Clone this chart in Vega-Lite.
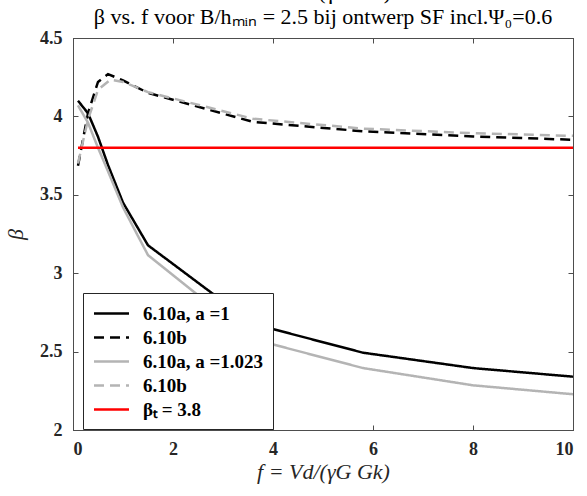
{
  "$schema": "https://vega.github.io/schema/vega-lite/v6.json",
  "width": 500,
  "height": 392,
  "autosize": {"type": "none"},
  "padding": {"left": 73, "top": 38, "right": 14, "bottom": 66},
  "background": "white",
  "title": {
    "text": ["f = Vd/(γG Gk)", "β vs. f voor B/hₘᵢₙ = 2.5 bij ontwerp SF incl.Ψ₀=0.6"],
    "font": "Liberation Serif",
    "fontSize": 22,
    "fontWeight": "normal",
    "lineHeight": 25,
    "color": "black",
    "anchor": "middle",
    "offset": 0
  },
  "config": {
    "view": {"stroke": "#4d4d4d", "strokeWidth": 1},
    "axis": {
      "labelFont": "Liberation Serif",
      "labelFontSize": 18,
      "labelFontWeight": "bold",
      "labelColor": "#262626",
      "titleFont": "Liberation Serif",
      "titleFontSize": 22,
      "titleFontStyle": "italic",
      "titleFontWeight": "normal",
      "titleColor": "#262626",
      "domainColor": "#4d4d4d",
      "tickColor": "#4d4d4d",
      "grid": false,
      "labelOverlap": false
    }
  },
  "data": {
    "values": [
      {"s": "A1", "f": 0.1, "b": 4.10},
      {"s": "A1", "f": 0.3, "b": 4.02},
      {"s": "A1", "f": 0.5, "b": 3.87},
      {"s": "A1", "f": 0.7, "b": 3.69},
      {"s": "A1", "f": 1.0, "b": 3.45},
      {"s": "A1", "f": 1.5, "b": 3.178},
      {"s": "A1", "f": 3.6, "b": 2.677},
      {"s": "A1", "f": 5.8, "b": 2.493},
      {"s": "A1", "f": 8.0, "b": 2.395},
      {"s": "A1", "f": 10.0, "b": 2.34},
      {"s": "B1", "f": 0.1, "b": 3.685},
      {"s": "B1", "f": 0.3, "b": 4.02},
      {"s": "B1", "f": 0.5, "b": 4.22},
      {"s": "B1", "f": 0.7, "b": 4.27},
      {"s": "B1", "f": 1.0, "b": 4.23},
      {"s": "B1", "f": 1.5, "b": 4.15},
      {"s": "B1", "f": 3.6, "b": 3.965},
      {"s": "B1", "f": 5.8, "b": 3.905},
      {"s": "B1", "f": 8.0, "b": 3.872},
      {"s": "B1", "f": 10.0, "b": 3.851},
      {"s": "A2", "f": 0.1, "b": 4.07},
      {"s": "A2", "f": 0.3, "b": 3.96},
      {"s": "A2", "f": 0.5, "b": 3.80},
      {"s": "A2", "f": 0.7, "b": 3.65},
      {"s": "A2", "f": 1.0, "b": 3.42},
      {"s": "A2", "f": 1.5, "b": 3.115},
      {"s": "A2", "f": 3.6, "b": 2.579},
      {"s": "A2", "f": 5.8, "b": 2.395},
      {"s": "A2", "f": 8.0, "b": 2.285},
      {"s": "A2", "f": 10.0, "b": 2.228},
      {"s": "B2", "f": 0.1, "b": 3.70},
      {"s": "B2", "f": 0.3, "b": 3.98},
      {"s": "B2", "f": 0.5, "b": 4.17},
      {"s": "B2", "f": 0.75, "b": 4.235},
      {"s": "B2", "f": 1.0, "b": 4.22},
      {"s": "B2", "f": 1.5, "b": 4.155},
      {"s": "B2", "f": 3.6, "b": 3.985},
      {"s": "B2", "f": 5.8, "b": 3.922},
      {"s": "B2", "f": 8.0, "b": 3.893},
      {"s": "B2", "f": 10.0, "b": 3.876},
      {"s": "T", "f": 0.1, "b": 3.8},
      {"s": "T", "f": 10.0, "b": 3.8}
    ]
  },
  "resolve": {"axis": {"x": "independent", "y": "independent"}},
  "layer": [
    {
      "mark": {"type": "line", "strokeWidth": 2.5, "clip": true},
      "encoding": {
        "x": {
          "field": "f", "type": "quantitative",
          "scale": {"domain": [0, 10], "nice": false, "zero": false},
          "axis": {"orient": "bottom", "values": [0, 2, 4, 6, 8, 10], "tickSize": -5, "labelPadding": 15, "title": "f = Vd/(γG Gk)", "titlePadding": 3, "labelExpr": "datum.value + ''"}
        },
        "y": {
          "field": "b", "type": "quantitative",
          "scale": {"domain": [2, 4.5], "nice": false, "zero": false},
          "axis": {"orient": "left", "values": [2, 2.5, 3, 3.5, 4, 4.5], "tickSize": -5, "labelPadding": 16, "title": "β", "titlePadding": 12, "labelExpr": "datum.value + ''"}
        },
        "color": {
          "field": "s", "type": "nominal",
          "scale": {"domain": ["A1", "B1", "A2", "B2", "T"], "range": ["#000000", "#000000", "#b4b4b4", "#b4b4b4", "#ff0000"]},
          "legend": {
            "orient": "none", "legendX": 10, "legendY": 255,
            "title": null,
            "strokeColor": "#262626", "fillColor": "white", "padding": 9,
            "labelFont": "Liberation Serif", "labelFontSize": 19, "labelFontWeight": "bold", "labelColor": "black",
            "symbolType": "M-1.75,0H1.75", "symbolSize": 400, "symbolStrokeWidth": 2.5,
            "symbolOffset": 8, "rowPadding": 2, "labelOffset": 20,
            "labelExpr": "datum.value == 'A1' ? '6.10a, a =1' : datum.value == 'B1' ? '6.10b' : datum.value == 'A2' ? '6.10a, a =1.023' : datum.value == 'B2' ? '6.10b' : 'βₜ = 3.8'"
          }
        },
        "strokeDash": {
          "field": "s", "type": "nominal",
          "scale": {"domain": ["A1", "B1", "A2", "B2", "T"], "range": [[1, 0], [10, 6], [1, 0], [10, 6], [1, 0]]},
          "legend": null
        }
      }
    },
    {
      "mark": {"type": "point", "opacity": 0},
      "encoding": {
        "x": {"field": "f", "type": "quantitative", "axis": {"orient": "top", "values": [0, 2, 4, 6, 8, 10], "tickSize": -5, "labels": false, "title": null}},
        "y": {"field": "b", "type": "quantitative", "axis": {"orient": "right", "values": [2, 2.5, 3, 3.5, 4, 4.5], "tickSize": -5, "labels": false, "title": null}}
      }
    }
  ]
}
